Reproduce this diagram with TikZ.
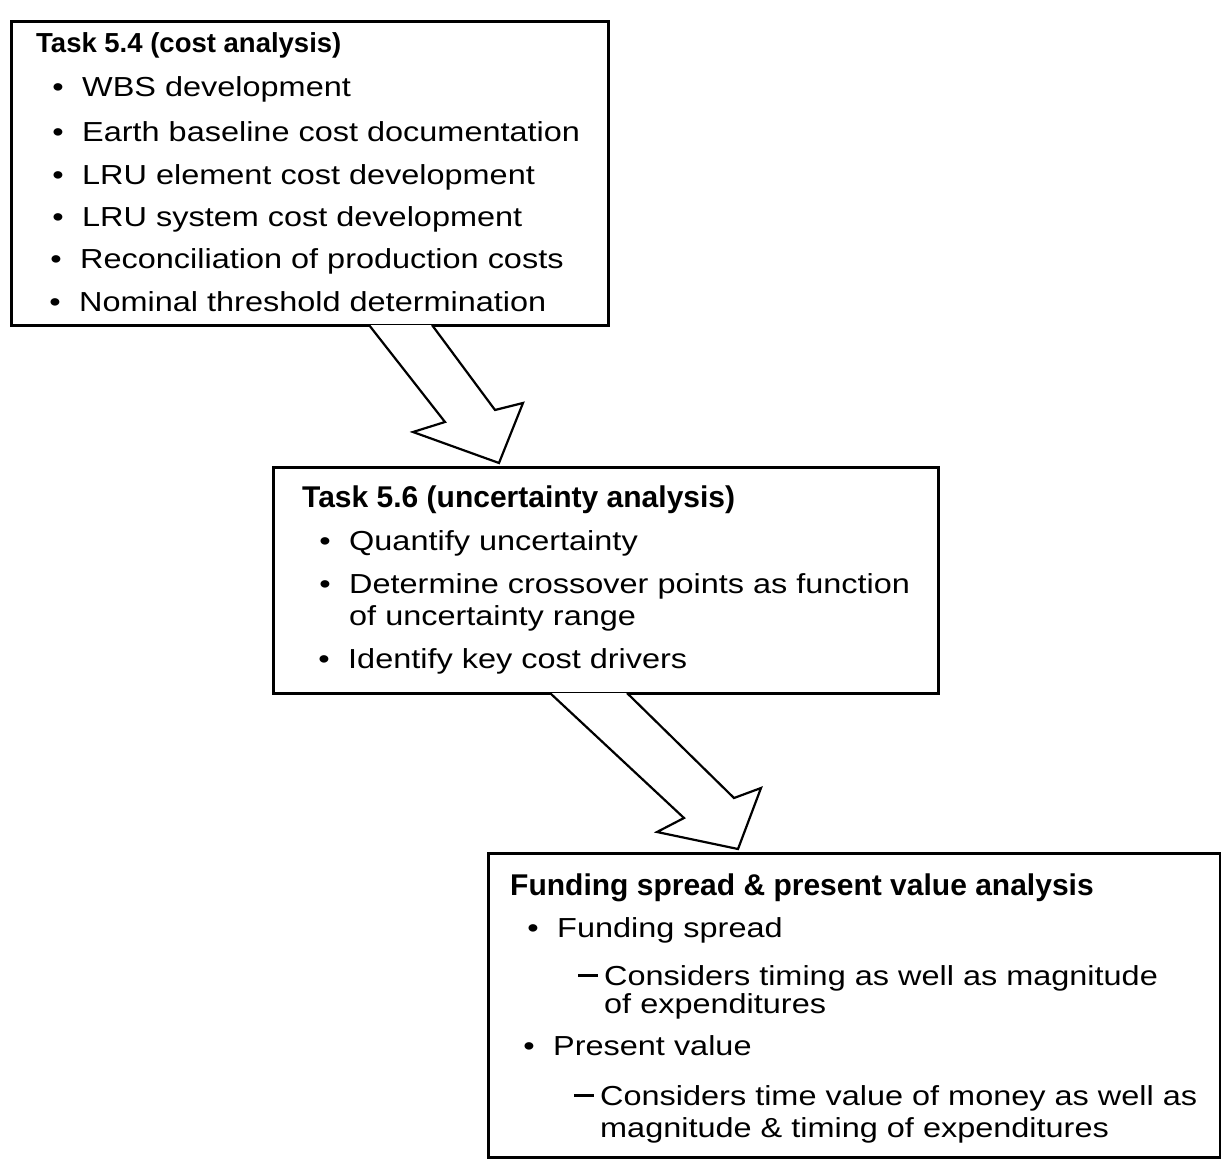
\documentclass[tikz,border=0pt]{standalone}
\usepackage{fontspec}
\setmainfont{Liberation Sans}
\newfontfamily\bodyfont{Liberation Sans}[FakeStretch=1.18]
\newfontfamily\titlefont{Liberation Sans}
\begin{document}
\begin{tikzpicture}[x=1pt,y=-1pt,
  boxstyle/.style={draw, line width=2.6pt, inner sep=0pt, anchor=north west},
  arrowstyle/.style={draw, line width=2.2pt, line join=miter, fill=white},
  bodytext/.style={anchor=base west, inner sep=0pt, font=\bodyfont\fontsize{27.5}{33}\selectfont},
  titletext/.style={anchor=base west, inner sep=0pt, font=\titlefont\bfseries\fontsize{30}{36}\selectfont},
  titletextA/.style={anchor=base west, inner sep=0pt, font=\titlefont\bfseries\fontsize{27.5}{33}\selectfont}]
\newcommand\bul{\llap{\textbullet\hspace{18.5pt}}}
\newcommand\dsh{\llap{\rule[8.5pt]{20pt}{2.2pt}\hspace{6pt}}}
\useasboundingbox[fill=white] (0,0) rectangle (1221,1161);

% boxes
\node[boxstyle, minimum width=597pt, minimum height=304pt] (box1) at (10,20) {};
\node[boxstyle, minimum width=665pt, minimum height=226pt] (box2) at (272,466) {};
\node[boxstyle, minimum width=732pt, minimum height=304pt] (box3) at (487,852) {};

% box 1 text
\node[titletextA] (t1) at (36,53) {Task 5.4 (cost analysis)};
\node[bodytext] (t1a) at (82,97) {\bul WBS development};
\node[bodytext] (t1b) at (82,142) {\bul Earth baseline cost documentation};
\node[bodytext] (t1c) at (82,185) {\bul LRU element cost development};
\node[bodytext] (t1d) at (82,227) {\bul LRU system cost development};
\node[bodytext] (t1e) at (80,269) {\bul Reconciliation of production costs};
\node[bodytext] (t1f) at (79,311) {\bul Nominal threshold determination};

% box 2 text
\node[titletext] (t2) at (302,507) {Task 5.6 (uncertainty analysis)};
\node[bodytext] (t2a) at (349,550) {\bul Quantify uncertainty};
\node[bodytext] (t2b) at (349,593) {\bul Determine crossover points as function};
\node[bodytext] (t2c) at (349,625) {of uncertainty range};
\node[bodytext] (t2d) at (348,668) {\bul Identify key cost drivers};

% box 3 text
\node[titletext] (t3) at (510,895) {Funding spread \& present value analysis};
\node[bodytext] (t3a) at (557,937) {\bul Funding spread};
\node[bodytext] (t3b) at (604,985) {\dsh Considers timing as well as magnitude};
\node[bodytext] (t3c) at (604,1013) {of expenditures};
\node[bodytext] (t3d) at (553,1055) {\bul Present value};
\node[bodytext] (t3e) at (600,1105) {\dsh Considers time value of money as well as};
\node[bodytext] (t3f) at (600,1137) {magnitude \& timing of expenditures};

% hollow arrows between boxes
\coordinate (a1l) at (369,325);
\coordinate (a1r) at (432,325);
\coordinate (a1tip) at (499,463);
\draw[arrowstyle] (a1l) -- (445,422) -- (413,432) -- (a1tip) -- (523,403) -- (495,410) -- (a1r);
\coordinate (a2l) at (550,693);
\coordinate (a2r) at (627,693);
\coordinate (a2tip) at (738,849);
\draw[arrowstyle] (a2l) -- (684,818) -- (657,832) -- (a2tip) -- (761,788) -- (734,798) -- (a2r);
\end{tikzpicture}
\end{document}
